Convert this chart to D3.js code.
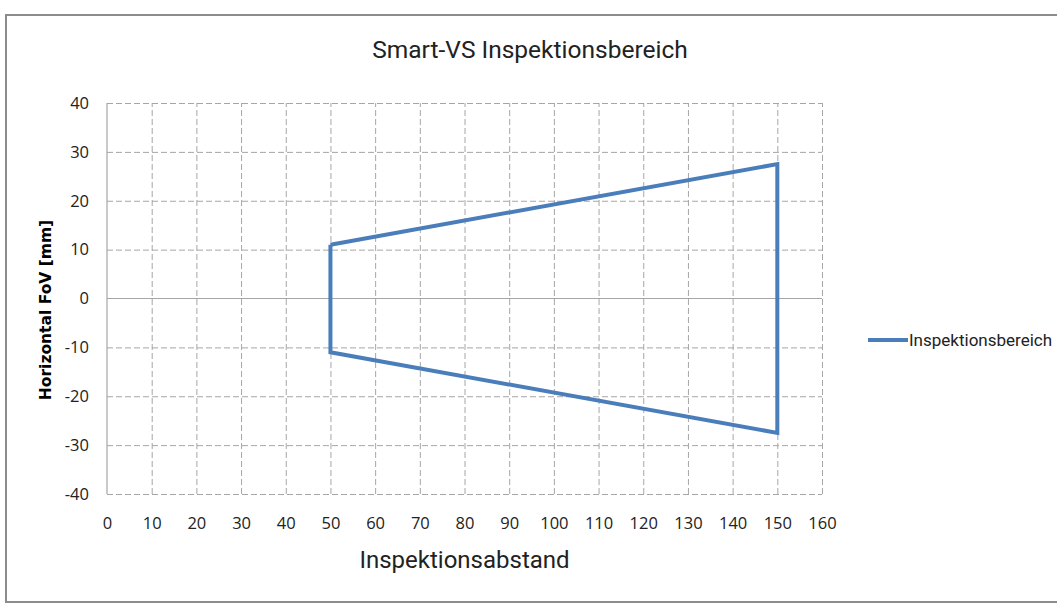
<!DOCTYPE html>
<html>
<head>
<meta charset="utf-8">
<script src="https://cdn.jsdelivr.net/npm/d3@7"></script>
<style>
	body { margin: 0; background: #fff; }
	.grid line { stroke: #a6a6a6; stroke-width: 1; stroke-dasharray: 6,3; }
	.grid path { display: none; }
</style>
</head>
<body>
<script>
// chart values
var seriesName = "Inspektionsbereich";
var distance = [50, 50, 150, 150, 50];   // Inspektionsabstand
var fov = [11, -11, -27.5, 27.5, 11];    // Horizontal FoV [mm]
var xTicks = [0, 10, 20, 30, 40, 50, 60, 70, 80, 90, 100, 110, 120, 130, 140, 150, 160];
var yTicks = [-40, -30, -20, -10, 0, 10, 20, 30, 40];

var fullWidth = 1057, fullHeight = 608;
var margin = {top: 103, right: 235, bottom: 114, left: 107},
	width = fullWidth - margin.left - margin.right,
	height = fullHeight - margin.top - margin.bottom;

var svg = d3.select("body").append("svg")
	.attr("width", fullWidth)
	.attr("height", fullHeight);

// outer frame
svg.append("rect")
	.attr("x", 6).attr("y", 15)
	.attr("width", 1060).attr("height", 587)
	.attr("fill", "none")
	.attr("stroke", "#8c8c8c")
	.attr("stroke-width", 2);

var g = svg.append("g")
	.attr("transform", "translate(" + margin.left + "," + margin.top + ")");

var xScale = d3.scaleLinear().domain([0, 160]).range([0, width]);
var yScale = d3.scaleLinear().domain([-40, 40]).range([height, 0]);

// dashed grid
g.append("g")
	.attr("class", "grid")
	.call(d3.axisLeft(yScale).tickValues(yTicks.filter(function(d) { return d !== 0; })).tickSize(-width).tickFormat(""));
g.append("g")
	.attr("class", "grid")
	.attr("transform", "translate(0," + height + ")")
	.call(d3.axisBottom(xScale).tickValues(xTicks.filter(function(d) { return d !== 0; })).tickSize(-height).tickFormat(""));

// solid axis lines (x=0 and y=0)
g.append("line")
	.attr("x1", xScale(0)).attr("x2", xScale(0))
	.attr("y1", 0).attr("y2", height)
	.attr("stroke", "#a6a6a6").attr("stroke-width", 1.2);
g.append("line")
	.attr("x1", 0).attr("x2", width)
	.attr("y1", yScale(0)).attr("y2", yScale(0))
	.attr("stroke", "#a6a6a6").attr("stroke-width", 1.2);

// tick labels, plain hyphen for negatives like the original
var plain = function(d) { return String(d); };

var yAxis = g.append("g")
	.call(d3.axisLeft(yScale).tickValues(yTicks).tickSize(0).tickPadding(18).tickFormat(plain));
yAxis.select(".domain").remove();

var xAxis = g.append("g")
	.attr("transform", "translate(0," + height + ")")
	.call(d3.axisBottom(xScale).tickValues(xTicks).tickSize(0).tickPadding(23).tickFormat(plain));
xAxis.select(".domain").remove();

g.selectAll(".tick text")
	.style("font-family", "'Open Sans', 'Liberation Sans', sans-serif")
	.style("font-size", "16.5px")
	.style("fill", "#222");

// the series
var pts = distance.map(function(d, i) { return [d, fov[i]]; });
var line = d3.line()
	.x(function(d) { return xScale(d[0]); })
	.y(function(d) { return yScale(d[1]); });

g.append("path")
	.datum(pts)
	.attr("d", line)
	.attr("fill", "none")
	.attr("stroke", "#4a7ebb")
	.attr("stroke-width", 4)
	.attr("stroke-linejoin", "miter");

// title
svg.append("text")
	.attr("x", 530)
	.attr("y", 58)
	.attr("text-anchor", "middle")
	.style("font-family", "Roboto, 'Noto Sans', sans-serif")
	.style("font-size", "24.5px")
	.style("fill", "#222")
	.text("Smart-VS Inspektionsbereich");

// axis labels
svg.append("text")
	.attr("x", margin.left + width / 2)
	.attr("y", 568)
	.attr("text-anchor", "middle")
	.style("font-family", "Roboto, 'Noto Sans', sans-serif")
	.style("font-size", "24px")
	.style("fill", "#222")
	.text("Inspektionsabstand");

svg.append("text")
	.attr("transform", "translate(51,310) rotate(-90)")
	.attr("text-anchor", "middle")
	.style("font-family", "'DejaVu Sans', Verdana, sans-serif")
	.style("font-weight", "bold")
	.style("font-size", "15.5px")
	.style("fill", "#000")
	.text("Horizontal FoV [mm]");

// legend
var legend = svg.append("g")
	.attr("transform", "translate(868,340)");
legend.append("line")
	.attr("x1", 0).attr("x2", 40)
	.attr("y1", 0).attr("y2", 0)
	.attr("stroke", "#4a7ebb")
	.attr("stroke-width", 4);
legend.append("text")
	.attr("x", 41)
	.attr("y", 6)
	.style("font-family", "Roboto, 'Noto Sans', sans-serif")
	.style("font-size", "17px")
	.style("fill", "#222")
	.text(seriesName);
</script>
</body>
</html>
